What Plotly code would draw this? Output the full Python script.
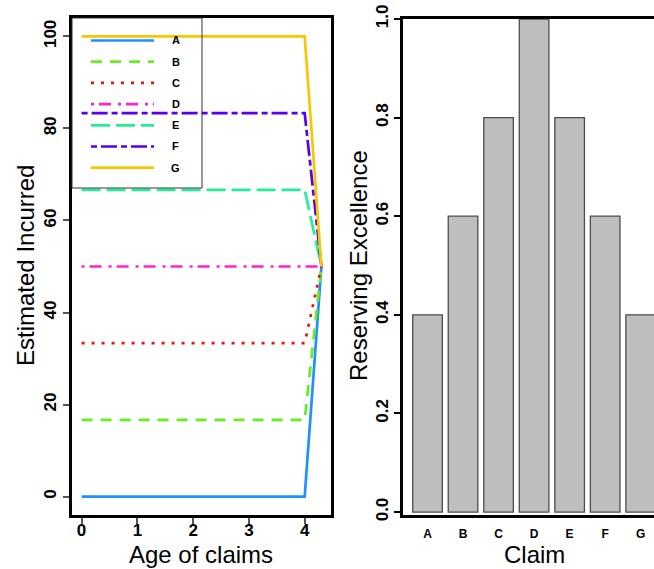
import plotly.graph_objects as go

# ---------------- data ----------------
ages = [0, 1, 2, 3, 4, 4.3]
series_names = ["A", "B", "C", "D", "E", "F", "G"]
inc_A = [0, 0, 0, 0, 0, 50]
inc_B = [16.67, 16.67, 16.67, 16.67, 16.67, 50]
inc_C = [33.33, 33.33, 33.33, 33.33, 33.33, 50]
inc_D = [50, 50, 50, 50, 50, 50]
inc_E = [66.67, 66.67, 66.67, 66.67, 66.67, 50]
inc_F = [83.33, 83.33, 83.33, 83.33, 83.33, 50]
inc_G = [100, 100, 100, 100, 100, 50]
incurred = [inc_A, inc_B, inc_C, inc_D, inc_E, inc_F, inc_G]

claims = ["A", "B", "C", "D", "E", "F", "G"]
excellence = [0.4, 0.6, 0.8, 1.0, 0.8, 0.6, 0.4]

age_ticks = [0, 1, 2, 3, 4]
inc_ticks = [0, 20, 40, 60, 80, 100]
exc_ticks = [0.0, 0.2, 0.4, 0.6, 0.8, 1.0]
exc_tick_text = ["0.0", "0.2", "0.4", "0.6", "0.8", "1.0"]

# ---------------- styles ----------------
colors = ["#1E90FF", "#66EE22", "#EE1111", "#FF22CC", "#22EE99", "#5500EE", "#F5C800"]
dashes = ["solid", "11px,8px", "3px,7px", "3px,5px,12px,7px", "19px,6px",
          "6px,4px,16px,4px", "solid"]
LW = 2.7
W, H = 654, 569
FONT = "Liberation Sans, Arial, sans-serif"


def fx(p):
    return p / W


def fy(p):
    return 1 - p / H


fig = go.Figure()

for name, vals, col, dsh in zip(series_names, incurred, colors, dashes):
    fig.add_trace(go.Scatter(x=ages, y=vals, mode="lines", name=name,
                             line=dict(color=col, width=LW, dash=dsh),
                             xaxis="x", yaxis="y", showlegend=False))

fig.add_trace(go.Bar(x=claims, y=excellence, xaxis="x2", yaxis="y2",
                     marker=dict(color="#BEBEBE", line=dict(color="#4D4D4D", width=1.3)),
                     showlegend=False))

tick_font = dict(family=FONT, size=17, color="black", weight="bold")

fig.update_layout(
    template="none",
    width=W, height=H,
    margin=dict(l=0, r=0, t=0, b=0, autoexpand=False),
    paper_bgcolor="white", plot_bgcolor="white",
    bargap=1 - 1 / 1.2,
    xaxis=dict(domain=[fx(72), fx(331)], range=[-0.172, 4.472], tickvals=age_ticks,
               ticks="outside", ticklen=6, tickwidth=1.5, tickcolor="#555",
               showline=True, mirror=True, linecolor="black", linewidth=2.5,
               showgrid=False, zeroline=False, tickfont=tick_font, anchor="y",
               ticklabelstandoff=-8, automargin=False),
    yaxis=dict(domain=[fy(515), fy(18)], range=[-4, 104], tickvals=inc_ticks,
               tickangle=-90,
               ticks="outside", ticklen=6, tickwidth=1.5, tickcolor="#555",
               showline=True, mirror=True, linecolor="black", linewidth=2.5,
               showgrid=False, zeroline=False, tickfont=tick_font, anchor="x",
               ticklabelstandoff=0, automargin=False),
    xaxis2=dict(domain=[fx(403), 1.0], type="category", range=[-0.69, 6.375],
                ticks="", showline=True, mirror=True, linecolor="black", linewidth=2.5,
                showgrid=False, zeroline=False, anchor="y2",
                tickfont=dict(family=FONT, size=12, color="black", weight="bold"),
                ticklabelstandoff=6, automargin=False),
    yaxis2=dict(domain=[fy(515), fy(19)], range=[-0.006, 1.0], tickvals=exc_ticks,
                ticktext=exc_tick_text, tickangle=-90,
                ticks="outside", ticklen=6, tickwidth=1.5, tickcolor="black",
                showline=True, mirror=False, linecolor="black", linewidth=2.5,
                showgrid=False, zeroline=False, tickfont=tick_font, anchor="x2",
                ticklabelstandoff=-1, automargin=False),
)

# axis titles
title_font = dict(family=FONT, size=24, color="black")
fig.add_annotation(text="Age of claims", x=fx(201), y=fy(554), xref="paper", yref="paper",
                   showarrow=False, font=title_font, xanchor="center", yanchor="middle")
fig.add_annotation(text="Estimated Incurred", x=fx(25), y=fy(266), xref="paper", yref="paper",
                   showarrow=False, font=title_font, textangle=-90,
                   xanchor="center", yanchor="middle")
fig.add_annotation(text="Claim", x=fx(534), y=fy(554), xref="paper", yref="paper",
                   showarrow=False, font=title_font, xanchor="center", yanchor="middle")
fig.add_annotation(text="Reserving Excellence", x=fx(358), y=fy(266), xref="paper", yref="paper",
                   showarrow=False, font=title_font, textangle=-90,
                   xanchor="center", yanchor="middle")

# legend (R-style, top-left box)
leg_left, leg_top, leg_right, leg_bottom = 72, 18, 202, 188
fig.add_shape(type="rect", xref="paper", yref="paper",
              x0=fx(leg_left), x1=fx(leg_right), y0=fy(leg_bottom), y1=fy(leg_top),
              line=dict(color="#333", width=1), fillcolor="rgba(0,0,0,0)")
row0, row_step = 40.5, 21.2
for i, (name, col, dsh) in enumerate(zip(series_names, colors, dashes)):
    yy = row0 + i * row_step
    fig.add_shape(type="line", xref="paper", yref="paper",
                  x0=fx(91), x1=fx(154), y0=fy(yy), y1=fy(yy),
                  line=dict(color=col, width=LW, dash=dsh))
    fig.add_annotation(text=name, x=fx(176), y=fy(yy), xref="paper", yref="paper",
                       showarrow=False, xanchor="center", yanchor="middle",
                       font=dict(family=FONT, size=11, color="black", weight="bold"))

fig.write_html("out.html",
               config={"displayModeBar": False},
               post_script="document.body.style.margin='0';"
                           "document.body.style.overflow='hidden';")
